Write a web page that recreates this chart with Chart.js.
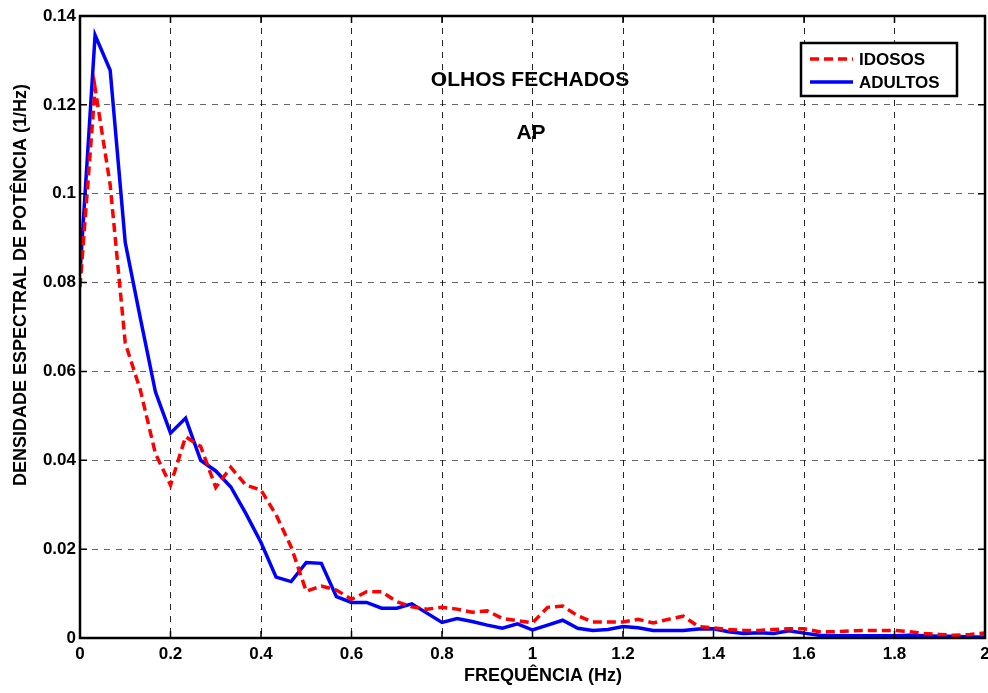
<!DOCTYPE html>
<html>
<head>
<meta charset="utf-8">
<script src="https://cdn.jsdelivr.net/npm/chart.js@4/dist/chart.umd.min.js"></script>
<style>
    html, body { margin: 0; padding: 0; background: #fff; }
    #wrap { width: 988px; height: 693px; }
</style>
</head>
<body>
<div id="wrap"><canvas id="psdChart" width="988" height="693"></canvas></div>
<script>
    // Frequências (Hz) - passo de 1/30 Hz
    var frequencias = [];
    for (var i = 0; i <= 60; i++) { frequencias.push(i / 30); }

    var idosos = [
        0.079, 0.1238, 0.102, 0.0664, 0.0558, 0.0415, 0.0344, 0.0453, 0.0431, 0.0339,
        0.0384, 0.0344, 0.0333, 0.0277, 0.0205, 0.0105, 0.0117, 0.0108, 0.0087, 0.0104,
        0.0104, 0.0082, 0.0070, 0.0065, 0.0069, 0.0065, 0.0058, 0.0061, 0.0044, 0.0039,
        0.0034, 0.0069, 0.0072, 0.0050, 0.0036, 0.0036, 0.0036, 0.0042, 0.0034, 0.0042,
        0.0049, 0.0026, 0.0023, 0.0019, 0.0017, 0.0017, 0.0019, 0.0021, 0.0021, 0.0014,
        0.0014, 0.0016, 0.0017, 0.0017, 0.0017, 0.0014, 0.0010, 0.0008, 0.0006, 0.0008,
        0.0011
    ];

    var adultos = [
        0.082, 0.1357, 0.1278, 0.0890, 0.0720, 0.0554, 0.0461, 0.0495, 0.0400, 0.0376,
        0.0340, 0.0280, 0.0215, 0.0137, 0.0127, 0.0170, 0.0168, 0.0093, 0.0080, 0.0080,
        0.0067, 0.0067, 0.0077, 0.0056, 0.0035, 0.0044, 0.0037, 0.0029, 0.0022, 0.0032,
        0.0018, 0.0029, 0.0040, 0.0022, 0.0017, 0.0019, 0.0026, 0.0023, 0.0017, 0.0017,
        0.0017, 0.0020, 0.0021, 0.0014, 0.0010, 0.0012, 0.0010, 0.0016, 0.0011, 0.0006,
        0.0005, 0.0005, 0.0005, 0.0005, 0.0005, 0.0006, 0.0005, 0.0004, 0.0004, 0.0002,
        0.0002
    ];

    var xTicks = [0, 0.2, 0.4, 0.6, 0.8, 1, 1.2, 1.4, 1.6, 1.8, 2];
    var yTicks = [0, 0.02, 0.04, 0.06, 0.08, 0.1, 0.12, 0.14];

    var titulos = ['OLHOS FECHADOS', 'AP'];
    var legendas = ['IDOSOS', 'ADULTOS'];
    var eixoX = 'FREQUÊNCIA (Hz)';
    var eixoY = 'DENSIDADE ESPECTRAL DE POTÊNCIA (1/Hz)';

    var FONTE = '"Liberation Sans", Arial, sans-serif';
    var VERMELHO = '#ff0000';
    var AZUL = '#0000ff';

    function pares(ys) {
        return frequencias.map(function (f, k) { return { x: f, y: ys[k] }; });
    }

    function fmt(v) {
        return String(parseFloat(v.toFixed(2)));
    }

    // Moldura, marcas internas, textos e legenda no estilo MATLAB
    var decoracao = {
        id: 'decoracao',
        afterDatasetsDraw: function (chart) {
            var ctx = chart.ctx;
            var a = chart.chartArea;
            var sx = chart.scales.x, sy = chart.scales.y;
            ctx.save();

            // marcas dos eixos (para dentro)
            ctx.strokeStyle = '#000';
            ctx.lineWidth = 1.5;
            ctx.beginPath();
            xTicks.forEach(function (t) {
                var px = sx.getPixelForValue(t);
                ctx.moveTo(px, a.bottom); ctx.lineTo(px, a.bottom - 7);
                ctx.moveTo(px, a.top); ctx.lineTo(px, a.top + 7);
            });
            yTicks.forEach(function (t) {
                var py = sy.getPixelForValue(t);
                ctx.moveTo(a.left, py); ctx.lineTo(a.left + 7, py);
                ctx.moveTo(a.right, py); ctx.lineTo(a.right - 7, py);
            });
            ctx.stroke();

            // moldura
            ctx.lineWidth = 2.5;
            ctx.strokeRect(a.left, a.top, a.right - a.left, a.bottom - a.top);

            // títulos internos
            ctx.fillStyle = '#000';
            ctx.font = 'bold 21px ' + FONTE;
            ctx.textAlign = 'center';
            ctx.textBaseline = 'middle';
            ctx.fillText(titulos[0], 530, 80);
            ctx.fillText(titulos[1], 531, 133);

            // legenda
            var lx = 801, ly = 43, lw = 156, lh = 53;
            ctx.fillStyle = '#fff';
            ctx.fillRect(lx, ly, lw, lh);
            ctx.lineWidth = 2.5;
            ctx.strokeStyle = '#000';
            ctx.strokeRect(lx, ly, lw, lh);
            var estilos = [
                { cor: VERMELHO, dash: [9, 5] },
                { cor: AZUL, dash: [] }
            ];
            legendas.forEach(function (nome, k) {
                var yy = ly + 16 + k * 23;
                ctx.beginPath();
                ctx.strokeStyle = estilos[k].cor;
                ctx.lineWidth = 3.5;
                ctx.setLineDash(estilos[k].dash);
                ctx.moveTo(lx + 9, yy);
                ctx.lineTo(lx + 52, yy);
                ctx.stroke();
                ctx.setLineDash([]);
                ctx.fillStyle = '#000';
                ctx.font = 'bold 17px ' + FONTE;
                ctx.textAlign = 'left';
                ctx.fillText(nome, lx + 58, yy + 1);
            });

            // títulos dos eixos
            ctx.font = 'bold 18px ' + FONTE;
            ctx.textAlign = 'center';
            ctx.fillText(eixoX, 543, 676);
            ctx.translate(21, 285);
            ctx.rotate(-Math.PI / 2);
            ctx.fillText(eixoY, 0, 0);
            ctx.restore();
        }
    };

    new Chart(document.getElementById('psdChart').getContext('2d'), {
        type: 'line',
        data: {
            datasets: [
                {
                    label: legendas[0],
                    data: pares(idosos),
                    borderColor: VERMELHO,
                    borderWidth: 3.5,
                    borderDash: [9, 5],
                    pointRadius: 0,
                    tension: 0,
                    fill: false
                },
                {
                    label: legendas[1],
                    data: pares(adultos),
                    borderColor: AZUL,
                    borderWidth: 3.5,
                    pointRadius: 0,
                    tension: 0,
                    fill: false
                }
            ]
        },
        options: {
            responsive: false,
            animation: false,
            layout: { autoPadding: false, padding: { left: 0, right: 3, top: 16, bottom: 0 } },
            plugins: {
                legend: { display: false },
                tooltip: { enabled: false },
                title: { display: false }
            },
            scales: {
                x: {
                    type: 'linear',
                    min: 0,
                    max: 2,
                    afterBuildTicks: function (scale) {
                        scale.ticks = xTicks.map(function (v) { return { value: v }; });
                    },
                    afterFit: function (scale) {
                        scale.height = 55;
                        scale.paddingLeft = 0;
                        scale.paddingRight = 0;
                    },
                    ticks: {
                        color: '#000',
                        padding: 6,
                        maxRotation: 0,
                        font: { family: FONTE, size: 17, weight: 'bold' },
                        callback: function (v) { return fmt(v); }
                    },
                    grid: { color: 'rgba(0,0,0,0.85)', lineWidth: 1, drawTicks: false },
                    border: { display: false, dash: [6, 6] }
                },
                y: {
                    min: 0,
                    max: 0.14,
                    afterBuildTicks: function (scale) {
                        scale.ticks = yTicks.map(function (v) { return { value: v }; });
                    },
                    afterFit: function (scale) {
                        scale.width = 80;
                        scale.paddingTop = 0;
                        scale.paddingBottom = 0;
                    },
                    ticks: {
                        color: '#000',
                        padding: 4,
                        font: { family: FONTE, size: 17, weight: 'bold' },
                        callback: function (v) { return fmt(v); }
                    },
                    grid: { color: 'rgba(0,0,0,0.6)', lineWidth: 1, drawTicks: false },
                    border: { display: false, dash: [6, 6] }
                }
            }
        },
        plugins: [decoracao]
    });
</script>
</body>
</html>
